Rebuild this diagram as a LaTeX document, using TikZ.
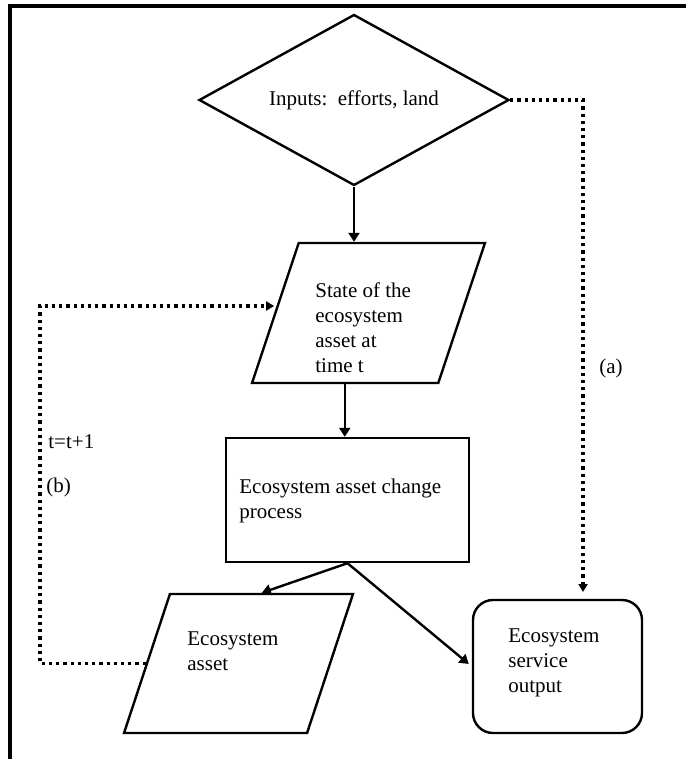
\documentclass[tikz,border=0pt]{standalone}
\usepackage{fontspec}
\setmainfont{Liberation Serif}
\usetikzlibrary{shapes.geometric,arrows.meta}

\begin{document}
\begin{tikzpicture}[x=0.5pt,y=-0.5pt,
    lbl/.style={inner sep=0pt, align=left, font=\fontsize{10.5}{12.5}\selectfont},
    io/.style={trapezium, trapezium left angle=71.5, trapezium right angle=108.5,
        trapezium stretches=true, draw, line width=1.2pt, inner sep=2pt},
    flow/.style={line width=1.2pt, -{Triangle[length=4.5pt,width=5.5pt]}},
    loop/.style={line width=1.6pt, dash pattern=on 1.6pt off 2pt, -{Triangle[length=4pt,width=4.5pt]}}]
    \useasboundingbox (0,0) rectangle (686,759);
    \draw[line width=1.7pt](10,759)--(10,6)--(686,6);

    \node[diamond, draw, line width=1.2pt, shape aspect=1.81, minimum width=155pt, minimum height=85.5pt, lbl](inp)at(354,100){Inputs:\ \ efforts, land};
    \node[io, minimum width=116.5pt, minimum height=70pt](state)at(368.5,313){};
    \node[lbl, anchor=west](statetxt)at(315,328){State of the\\ecosystem\\asset at\\time t};
    \node[draw, line width=1.2pt, minimum width=121.5pt, minimum height=62pt, inner sep=0pt](proc)at(347.5,500){};
    \node[lbl, anchor=west](proctxt)at(239,500.5){Ecosystem asset change\\process};
    \node[io, minimum width=114.5pt, minimum height=69.5pt](asset)at(238.5,663.5){};
    \node[lbl, anchor=west](assettxt)at(187,651.5){Ecosystem\\asset};
    \node[draw, line width=1.2pt, rounded corners=10pt, minimum width=84.5pt, minimum height=66.5pt, inner sep=0pt](serv)at(557.5,666.5){};
    \node[lbl, anchor=west](servtxt)at(508,662.5){Ecosystem\\service\\output};

    \coordinate(aend)at(583,592);
    \coordinate(bturn)at(40,306);

    \draw[flow](inp.south)--(inp.south |- state.north);
    \draw[flow](state.bottom side)--(state.bottom side |- proc.north);
    \draw[flow](proc.south)--(asset.top side);
    \draw[flow, shorten >=2pt](proc.south)--(serv.west);
    \draw[loop](inp.east)-|(aend);
    \draw[loop](asset.left side)-|(bturn)--(state.left side |- bturn);

    \node[lbl, anchor=west](tstep)at(48,442){t=t+1};
    \node[lbl, anchor=west](blbl)at(46,487){(b)};
    \node[lbl](albl)at(611,368){(a)};
\end{tikzpicture}
\end{document}
